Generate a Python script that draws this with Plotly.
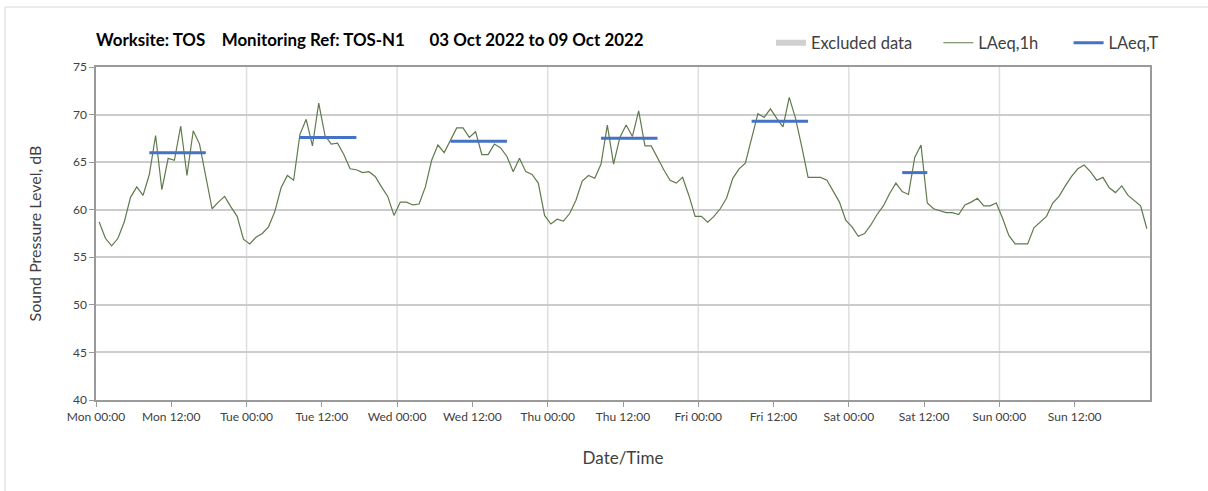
import pandas as pd
import plotly.graph_objects as go

# ---------------- data ----------------
start_time = "2022-10-03 00:30"   # first hourly interval midpoint
laeq_1h = [
    # Mon
    58.7, 57.0, 56.2, 57.0, 58.7, 61.3, 62.4, 61.5, 63.7, 67.8, 62.1, 65.4,
    65.2, 68.8, 63.6, 68.3, 66.9, 63.5, 60.1, 60.8, 61.4, 60.3, 59.3, 56.9,
    # Tue
    56.4, 57.1, 57.5, 58.2, 59.8, 62.3, 63.6, 63.1, 67.9, 69.5, 66.7, 71.2,
    67.8, 66.9, 67.0, 65.8, 64.3, 64.2, 63.9, 64.0, 63.5, 62.4, 61.4, 59.4,
    # Wed
    60.8, 60.8, 60.5, 60.6, 62.4, 65.2, 66.8, 66.0, 67.3, 68.6, 68.6, 67.6,
    68.2, 65.8, 65.8, 66.9, 66.5, 65.6, 64.0, 65.4, 64.0, 63.7, 62.8, 59.4,
    # Thu
    58.5, 59.0, 58.8, 59.6, 61.0, 63.0, 63.6, 63.3, 64.8, 68.9, 64.8, 67.6,
    68.9, 67.7, 70.4, 66.7, 66.7, 65.4, 64.2, 63.1, 62.8, 63.4, 61.5, 59.3,
    # Fri
    59.3, 58.7, 59.3, 60.1, 61.2, 63.3, 64.3, 64.9, 67.5, 70.1, 69.7, 70.6,
    69.6, 68.7, 71.8, 69.6, 66.6, 63.4, 63.4, 63.4, 63.1, 61.9, 60.8, 58.9,
    # Sat
    58.2, 57.2, 57.5, 58.4, 59.5, 60.4, 61.7, 62.8, 61.9, 61.6, 65.5, 66.8,
    60.7, 60.1, 59.9, 59.7, 59.7, 59.5, 60.5, 60.8, 61.2, 60.4, 60.4, 60.7,
    # Sun
    59.1, 57.3, 56.4, 56.4, 56.4, 58.1, 58.7, 59.3, 60.7, 61.4, 62.5, 63.5,
    64.3, 64.7, 64.0, 63.1, 63.4, 62.3, 61.8, 62.5, 61.5, 60.9, 60.4, 58.0,
]

laeqt_start = ["2022-10-03 08:30", "2022-10-04 08:30", "2022-10-05 08:30",
               "2022-10-06 08:30", "2022-10-07 08:30", "2022-10-08 08:30"]
laeqt_end = ["2022-10-03 17:30", "2022-10-04 17:30", "2022-10-05 17:30",
             "2022-10-06 17:30", "2022-10-07 17:30", "2022-10-08 12:30"]
laeqt_value = [66.0, 67.6, 67.2, 67.5, 69.3, 63.9]

day_starts = ["2022-10-04", "2022-10-05", "2022-10-06", "2022-10-07",
              "2022-10-08", "2022-10-09"]
tick_times = ["2022-10-03 00:00", "2022-10-03 12:00", "2022-10-04 00:00",
              "2022-10-04 12:00", "2022-10-05 00:00", "2022-10-05 12:00",
              "2022-10-06 00:00", "2022-10-06 12:00", "2022-10-07 00:00",
              "2022-10-07 12:00", "2022-10-08 00:00", "2022-10-08 12:00",
              "2022-10-09 00:00", "2022-10-09 12:00"]
x_range = ["2022-10-03 00:00", "2022-10-10 00:00"]
y_range = [40, 75]

title_text = ("Worksite: TOS\u00a0\u00a0\u00a0 Monitoring Ref: TOS-N1"
              "\u00a0\u00a0\u00a0\u00a0\u00a0 03 Oct 2022 to 09 Oct 2022")
NB = "\u00a0"

# ---------------- figure ----------------
FONT = "Lato"
times = pd.date_range(start_time, periods=len(laeq_1h), freq="h")

seg_x, seg_y = [], []
for s, e, v in zip(laeqt_start, laeqt_end, laeqt_value):
    seg_x += [s, e, None]
    seg_y += [v, v, None]

fig = go.Figure()
fig.add_trace(go.Scatter(x=[None], y=[None], name="Excluded data" + NB * 5,
                         mode="none", fill="toself", fillcolor="#d0d0d0"))
fig.add_trace(go.Scatter(x=times, y=laeq_1h, mode="lines",
                         name="LAeq,1h" + NB * 6,
                         line=dict(color="#5f7a4c", width=1.2)))
fig.add_trace(go.Scatter(x=seg_x, y=seg_y, mode="lines", name="LAeq,T",
                         line=dict(color="#4472c4", width=3)))

shapes = []
for d in day_starts:
    shapes.append(dict(type="line", xref="x", yref="paper", x0=d, x1=d,
                       y0=0, y1=1, layer="below",
                       line=dict(color="#dedede", width=1.5)))
# outer chart frame (only left/top visible)
shapes.append(dict(type="rect", xref="paper", yref="paper",
                   x0=-0.0863, x1=1.2, y0=-0.5, y1=1.18,
                   line=dict(color="#d9d9d9", width=1), layer="below"))

fig.update_layout(
    width=1208, height=491,
    margin=dict(l=96, r=58, t=67, b=91, autoexpand=False),
    paper_bgcolor="white", plot_bgcolor="white",
    font=dict(family=FONT, color="#404040"),
    showlegend=True,
    legend=dict(orientation="h", x=(771 - 96) / 1054, xanchor="left",
                y=1.072, yanchor="middle",
                font=dict(size=16.5, color="#404040"),
                itemwidth=30, tracegroupgap=0, bgcolor="rgba(0,0,0,0)"),
    title=dict(text=title_text, x=96 / 1208, xanchor="left",
               y=1 - 40 / 491, yanchor="middle",
               font=dict(family=FONT, size=16.9, color="black", weight="bold")),
    shapes=shapes,
    xaxis=dict(
        type="date", range=x_range, tickvals=tick_times,
        tickformat="%a %H:%M", ticks="outside", ticklen=5, tickcolor="#9a9a9a",
        tickfont=dict(size=12, color="#404040"), showgrid=False,
        showline=True, linecolor="#9a9a9a", linewidth=1.5, mirror=True,
        zeroline=False, automargin=False,
        title=dict(text="Date/Time", font=dict(size=17, color="#404040"),
                   standoff=29),
    ),
    yaxis=dict(
        range=y_range, dtick=5, ticks="outside", ticklen=5, tickcolor="#9a9a9a",
        tickfont=dict(size=12, color="#404040"), showgrid=True,
        gridcolor="#cccccc", gridwidth=1.5, showline=True,
        linecolor="#9a9a9a", linewidth=1.5, mirror=True, zeroline=False,
        automargin=False,
        title=dict(text="Sound Pressure Level, dB",
                   font=dict(size=16, color="#404040"), standoff=27),
    ),
)

fig.write_html("out.html",
               config={"displayModeBar": False},
               post_script="document.body.style.margin='0';"
                           "document.body.style.overflow='hidden';")
